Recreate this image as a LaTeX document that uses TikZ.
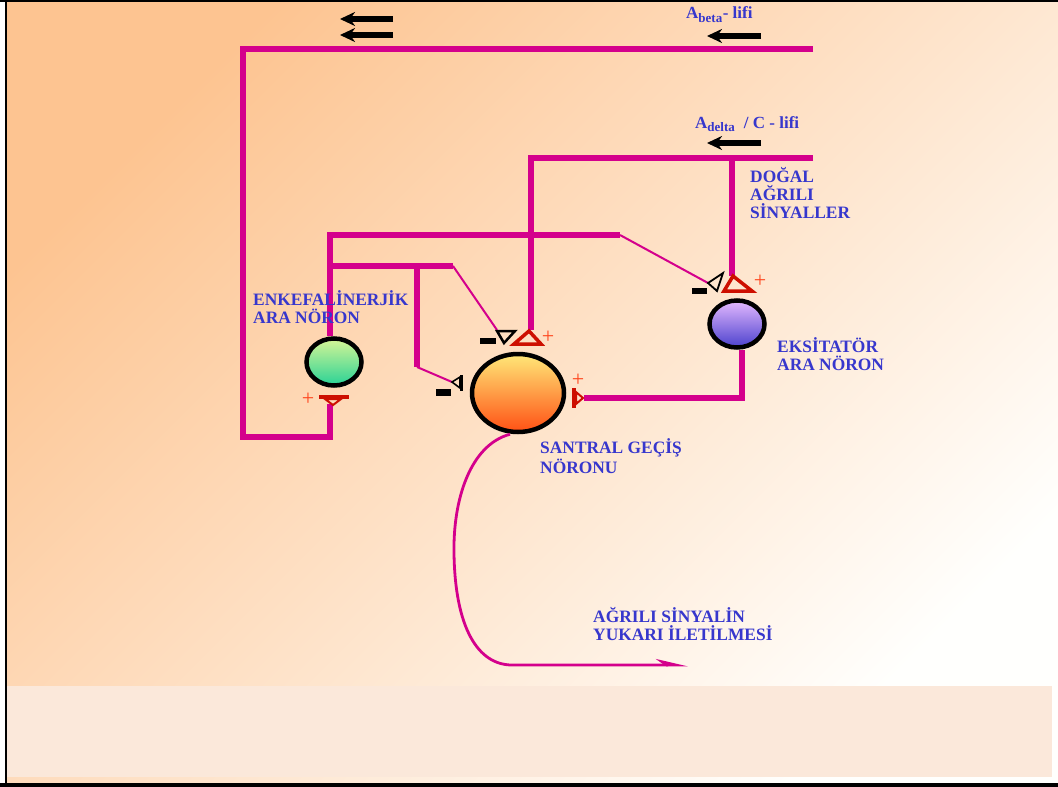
\documentclass[tikz,border=0pt]{standalone}
\usepackage{fontspec}
\setmainfont{Liberation Serif}
\usetikzlibrary{arrows.meta,shapes.geometric}
\definecolor{fibcol}{RGB}{212,0,140}
\definecolor{lblue}{RGB}{55,55,205}
\definecolor{synred}{RGB}{205,15,0}
\definecolor{plusred}{RGB}{255,70,30}
\definecolor{bgtop}{RGB}{253,196,145}
\definecolor{bgbot}{RGB}{255,255,253}
\definecolor{panel}{RGB}{251,232,218}
\definecolor{enkA}{RGB}{215,245,150}
\definecolor{enkB}{RGB}{40,210,150}
\definecolor{sgnA}{RGB}{255,232,120}
\definecolor{sgnB}{RGB}{255,80,20}
\definecolor{eksA}{RGB}{228,185,255}
\definecolor{eksB}{RGB}{75,65,205}

\begin{document}
\begin{tikzpicture}[x=1pt,y=-1pt,
  fibre/.style={draw=fibcol,line width=6.5pt},
  twig/.style={draw=fibcol,line width=2pt},
  soma/.style={ellipse,draw=black,line width=4.5pt,inner sep=0pt,minimum width=55pt,minimum height=47pt},
  lbl/.style={font=\bfseries\fontsize{17.4}{18}\selectfont,text=lblue,align=left,anchor=base west,inner sep=0pt},
  fiblbl/.style={font=\bfseries\fontsize{17}{19}\selectfont,text=lblue,anchor=base west,inner sep=0pt},
  plussign/.style={text=plusred,font=\fontsize{22}{22}\selectfont,inner sep=0pt},
  sig/.style={line width=5.5pt,-{Stealth[length=15pt,width=14pt]}},
  exsyn/.style={draw=synred,line width=3.5pt,line join=miter},
  insyn/.style={draw=black,line width=2pt}]
  \newcommand\fibsub[1]{\textsubscript{\fontsize{13}{13}\selectfont #1}}
  \useasboundingbox (0,0) rectangle (1058,787);
  \fill[white] (0,0) rectangle (1058,787);
  \shade[top color=bgtop,bottom color=bgbot,shading angle=45] (6,0) rectangle (1058,787);
  \fill[panel] (7,686) rectangle (1052,777);

  \node[soma,top color=enkA,bottom color=enkB] (enk) at (334,362) {};
  \node[soma,top color=sgnA,bottom color=sgnB,minimum width=92pt,minimum height=78pt] (sgn) at (518,393) {};
  \node[soma,top color=eksA,bottom color=eksB] (eks) at (737,324) {};

  \coordinate (ab1) at (813,49);
  \coordinate (ab2) at (243,49);
  \coordinate (ab3) at (243,437);
  \coordinate (enkin) at (330,404);
  \coordinate (ad1) at (813,158);
  \coordinate (ad2) at (531,158);
  \coordinate (adx) at (732,158);
  \coordinate (sgnex) at (531,330);
  \coordinate (eksex) at (732,276);
  \coordinate (en1) at (620,235);
  \coordinate (en2) at (330,266);
  \coordinate (en3) at (453,266);
  \coordinate (en4) at (417,266);
  \coordinate (en5) at (417,367);
  \coordinate (eksin) at (708,283);
  \coordinate (sgnin1) at (497,330);
  \coordinate (sgnin2) at (452,382);
  \coordinate (sgnex2) at (584,398);
  \coordinate (up) at (688,665);

  \draw[fibre] (ab1) -- (ab2) -- (ab3) -| (enkin);
  \draw[fibre] (ad1) -- (ad2) -- (sgnex);
  \draw[fibre] (adx) -- (eksex);
  \draw[fibre] ([xshift=-4pt]enk.north) |- (en1);
  \draw[twig] (en1) -- (eksin);
  \draw[fibre] (en2) -- (en3);
  \draw[twig] (en3) -- (sgnin1);
  \draw[fibre] (en4) -- (en5);
  \draw[twig] (en5) -- (sgnin2);
  \draw[fibre] ([xshift=5pt]eks.south) |- (sgnex2);
  \draw[draw=fibcol,line width=2.8pt,-{Stealth[length=26pt,width=12pt,harpoon]}] ([xshift=-8pt]sgn.south) .. controls (470,445) and (453,500) .. (454,553) .. controls (455,628) and (478,665) .. (512,665) -- (up);

  \draw[exsyn] (514,344) -- (541,344) -- (529,331) -- cycle;
  \draw[insyn,line width=2.5pt] (497,331) -- (515,331) -- (504,343) -- cycle;
  \fill (480,337.5) rectangle (496,343.5);
  \draw[insyn,line width=3pt] (461,375) -- (461,391);
  \draw[insyn,line width=1.6pt] (460,377) -- (452,382) -- (460,388) -- cycle;
  \fill (436,389) rectangle (451,396);
  \draw[exsyn,line width=4pt] (574,388) -- (574,408);
  \draw[exsyn,line width=2pt] (576,392) -- (583,398) -- (576,404) -- cycle;
  \draw[exsyn] (724,291) -- (752,291) -- (733,276) -- cycle;
  \draw[insyn,line width=1.8pt] (708,283) -- (723,273) -- (717,291) -- cycle;
  \fill (692,287.5) rectangle (707,293.5);
  \draw[exsyn,line width=4pt] (319,397) -- (349,397);
  \draw[exsyn,line width=2pt] (325,399) -- (341,399) -- (333,405) -- cycle;

  \node[plussign] (p1) at (548,337) {+};
  \node[plussign] (p2) at (578,380) {+};
  \node[plussign] (p3) at (760,281) {+};
  \node[plussign] (p4) at (308,399) {+};

  \draw[sig] (393,19) -- (340,19);
  \draw[sig] (393,35) -- (340,35);
  \draw[sig] (761,36) -- (707,36);
  \draw[sig] (761,143) -- (707,143);

  \node[fiblbl] (ablbl) at (686,19) {A\fibsub{beta}- lifi};
  \node[fiblbl] (adlbl) at (695,128) {A\fibsub{delta}\ \ / C - lifi};
  \node[lbl] (painlbl) at (750,218) {DOĞAL\\AĞRILI\\SİNYALLER};
  \node[lbl] (enklbl) at (253,323) {ENKEFALİNERJİK\\ARA NÖRON};
  \node[lbl] (ekslbl) at (777,370) {EKSİTATÖR\\ARA NÖRON};
  \node[lbl] (sgnlbl) at (540,473) {SANTRAL GEÇİŞ\\NÖRONU};
  \node[lbl] (uplbl) at (593,640) {AĞRILI SİNYALİN\\YUKARI İLETİLMESİ};

  \draw[line width=2.5pt] (6.2,0) -- (6.2,787);
  \draw[line width=2pt] (0,1) -- (1058,1);
  \draw[line width=9pt] (0,787) -- (1058,787);
\end{tikzpicture}
\end{document}
